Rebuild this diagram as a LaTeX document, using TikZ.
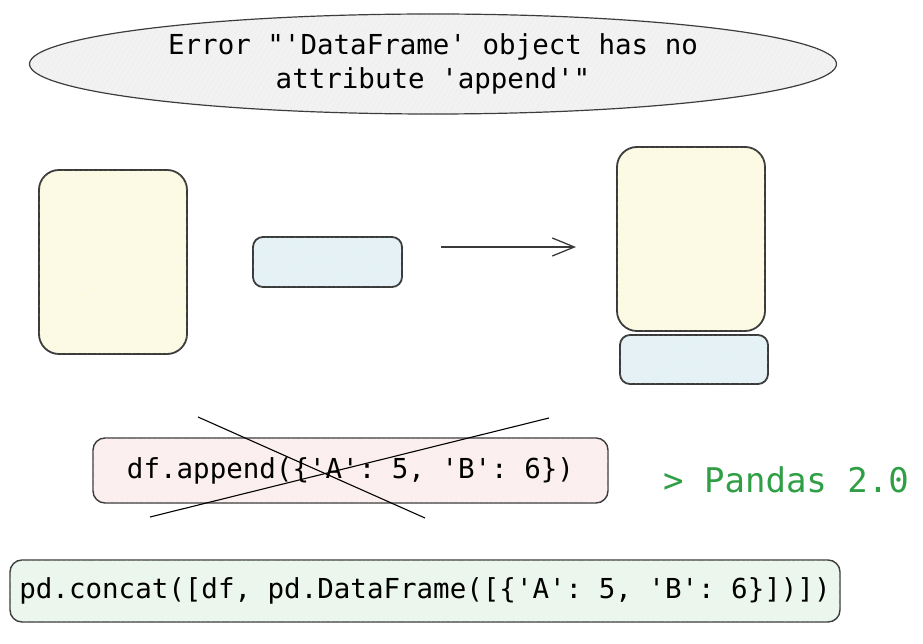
\documentclass[tikz,border=0pt]{standalone}
\usepackage{fontspec}
\setmonofont{DejaVu Sans Mono}
\usetikzlibrary{arrows.meta, patterns.meta, shapes.geometric}
\definecolor{edgegray}{HTML}{3A3A3A}
\definecolor{bubblefill}{HTML}{F2F2F2}
\definecolor{yellowfill}{HTML}{FCFAE6}
\definecolor{bluefill}{HTML}{E6F1F6}
\definecolor{redfill}{HTML}{FBEFEF}
\definecolor{greenfill}{HTML}{ECF6EE}
\definecolor{pandasgreen}{HTML}{2F9E44}
\tikzset{>={Straight Barb[length=22pt,width=18pt]}}
\tikzset{
    hatch/.style={postaction={pattern={Lines[angle=60,distance=4pt,line width=0.35pt]}, pattern color=#1}},
    codefont/.style={font=\ttfamily\fontsize{27.5}{34}\selectfont},
    frame/.style={draw=edgegray, line width=1.8pt, inner sep=0pt, outer sep=0pt},
    rowbox/.style={frame, fill=yellowfill, hatch=yellow!40!white, rounded corners=20pt, minimum width=148pt, minimum height=184pt},
    entrybox/.style={frame, fill=bluefill, hatch=cyan!20!white, rounded corners=10pt, minimum width=149pt, minimum height=50pt},
    codebox/.style={frame, line width=1.4pt, rounded corners=12pt, codefont}
}

\begin{document}
\begin{tikzpicture}[x=1pt, y=-1pt]
    \useasboundingbox (0,0) rectangle (923,644);
    % error message
    \node[ellipse, draw=edgegray, line width=1.2pt, fill=bubblefill, hatch=black!12,
          minimum width=807pt, minimum height=100pt, inner sep=0pt, align=center, codefont]
          (err) at (433,64) {Error "'DataFrame' object has no\\attribute 'append'"};
    % dataframe plus row
    \node[rowbox] (dfold) at (113,262) {};
    \node[entrybox] (row) at (327.5,262) {};
    \coordinate (arrS) at (441,247);
    \coordinate (arrE) at (576,247);
    \draw[->, edgegray, line width=1.3pt] (arrS) -- (arrE);
    \node[rowbox] (dfnew) at (691,239) {};
    \node[entrybox, minimum width=148pt, minimum height=49pt] (rownew) at (694,359.5) {};
    % old api, crossed out
    \node[codebox, fill=redfill, hatch=red!10!white, minimum width=515pt, minimum height=65pt]
          (oldcall) at (350.5,470.5) {df.append(\{'A': 5, 'B': 6\})};
    \coordinate (xA) at (198,417);
    \coordinate (xB) at (425,518);
    \coordinate (xC) at (150,517);
    \coordinate (xD) at (549,418);
    \draw[line width=1.1pt] (xA) -- (xB);
    \draw[line width=1.1pt] (xC) -- (xD);
    \node[text=pandasgreen, font=\ttfamily\fontsize{34}{40}\selectfont] (ver) at (786,480) {> Pandas 2.0};
    % new api
    \node[codebox, fill=greenfill, hatch=green!12!white, minimum width=830pt, minimum height=62pt]
          (newcall) at (425,591) {pd.concat([df, pd.DataFrame([\{'A': 5, 'B': 6\}])])};
\end{tikzpicture}
\end{document}
